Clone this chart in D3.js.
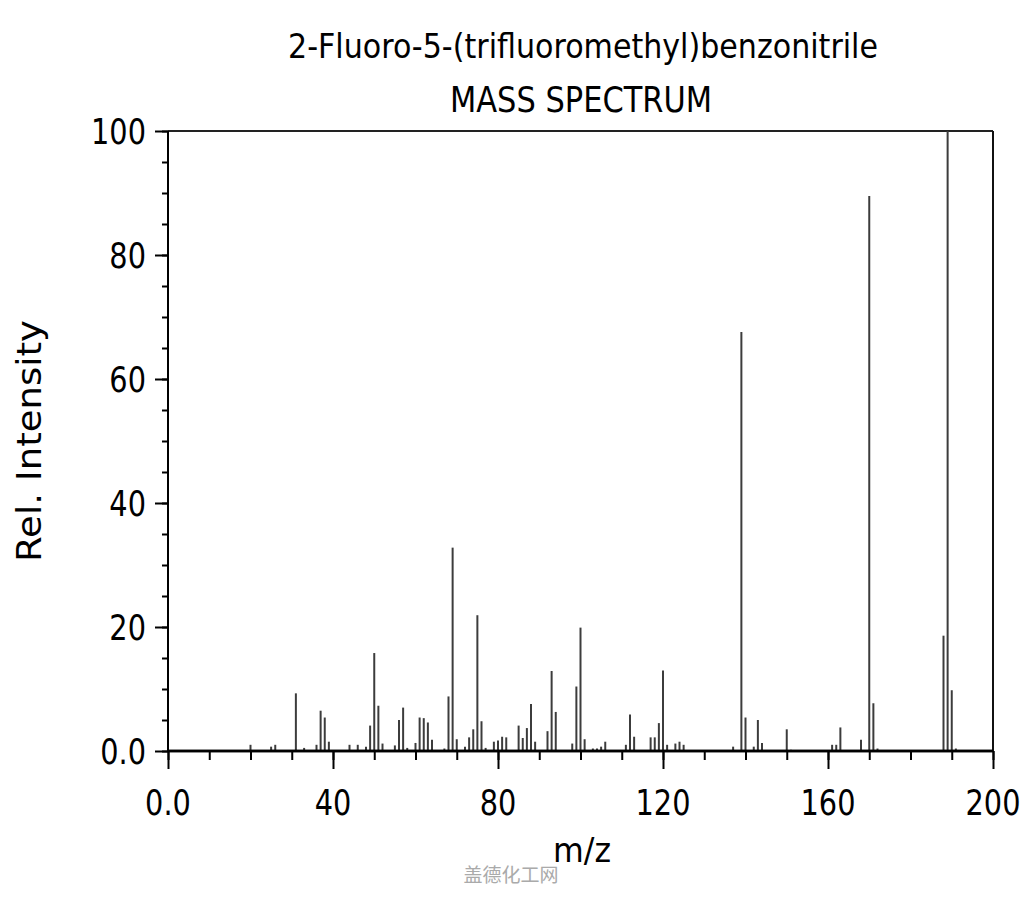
<!DOCTYPE html>
<html>
<head>
<meta charset="utf-8">
<script src="https://cdn.jsdelivr.net/npm/d3@7"></script>
<style>
  html, body { margin: 0; padding: 0; background: #fff; }
  svg { display: block; }
  text { font-family: "DejaVu Sans", sans-serif; fill: #000; }
</style>
</head>
<body>
<svg id="chart" width="1024" height="900"></svg>
<script>
const titleText = "2-Fluoro-5-(trifluoromethyl)benzonitrile";
const subtitleText = "MASS SPECTRUM";
const xLabelText = "m/z";
const yLabelText = "Rel. Intensity";
const watermarkText = "盖德化工网";

const mz = [20,25,26,31,33,36,37,38,39,44,46,48,49,50,51,52,55,56,57,58,60,61,62,63,64,
  67,68,69,70,72,73,74,75,76,77,79,80,81,82,85,86,87,88,89,92,93,94,98,99,100,101,
  103,104,105,106,111,112,113,117,118,119,120,121,123,124,125,137,139,140,142,143,144,
  150,151,161,162,163,168,170,171,172,188,189,190,191];
const intensity = [1.0,0.7,1.0,9.3,0.5,1.0,6.5,5.4,1.5,1.0,1.0,0.7,4.1,15.8,7.3,1.2,0.9,5.0,7.0,0.5,1.3,5.4,5.3,4.6,1.8,
  0.4,8.8,32.8,1.9,0.7,2.2,3.5,21.9,4.8,0.5,1.5,1.7,2.3,2.2,4.1,2.1,3.7,7.6,1.5,3.2,12.9,6.3,1.2,10.4,19.9,1.9,
  0.4,0.4,0.7,1.5,1.0,5.9,2.3,2.2,2.2,4.5,13.0,1.0,1.2,1.5,1.0,0.7,67.6,5.4,0.7,5.0,1.3,
  3.5,0.2,1.0,1.0,3.8,1.8,89.5,7.7,0.4,18.6,100,9.8,0.4];

const xMajorTicks = [0, 40, 80, 120, 160, 200];
const xMajorLabels = ["0.0", "40", "80", "120", "160", "200"];
const xMinorTicks = [0,10,20,30,40,50,60,70,80,90,100,110,120,130,140,150,160,170,180,190,200];
const yMajorTicks = [0, 20, 40, 60, 80, 100];
const yMajorLabels = ["0.0", "20", "40", "60", "80", "100"];
const yMinorTicks = [0,5,10,15,20,25,30,35,40,45,50,55,60,65,70,75,80,85,90,95,100];

const peaks = mz.map((m, i) => ({ mz: m, v: intensity[i] }));

const svg = d3.select("#chart");
const pLeft = 168, pRight = 993, pTop = 131, pBottom = 751;
const x = d3.scaleLinear().domain([0, 200]).range([pLeft, pRight]);
const y = d3.scaleLinear().domain([0, 100]).range([pBottom, pTop]);

// frame top and right
svg.append("line").attr("x1", pLeft).attr("x2", pRight).attr("y1", pTop).attr("y2", pTop)
  .attr("stroke", "#222").attr("stroke-width", 2);
svg.append("line").attr("x1", pRight).attr("x2", pRight).attr("y1", pTop).attr("y2", pBottom)
  .attr("stroke", "#111").attr("stroke-width", 2);

// bars
svg.append("g").selectAll("line").data(peaks).join("line")
  .attr("x1", d => x(d.mz)).attr("x2", d => x(d.mz))
  .attr("y1", y(0)).attr("y2", d => y(d.v))
  .attr("stroke", "#3c3c3c").attr("stroke-width", 2);

// x axis minor / major
const xMinor = svg.append("g").attr("transform", `translate(0,${pBottom})`)
  .call(d3.axisBottom(x).tickValues(xMinorTicks).tickSize(9).tickFormat(""));
const xMajor = svg.append("g").attr("transform", `translate(0,${pBottom})`)
  .call(d3.axisBottom(x).tickValues(xMajorTicks).tickSize(18).tickFormat(""));
[xMinor, xMajor].forEach(g => {
  g.selectAll(".tick line").attr("stroke", "#000").attr("stroke-width", 2);
  g.select(".domain").attr("stroke", "#000").attr("stroke-width", 2.5).attr("d", `M${pLeft},0H${pRight}`);
});

// y axis minor / major
const yMinor = svg.append("g").attr("transform", `translate(${pLeft},0)`)
  .call(d3.axisLeft(y).tickValues(yMinorTicks).tickSize(6).tickFormat(""));
const yMajor = svg.append("g").attr("transform", `translate(${pLeft},0)`)
  .call(d3.axisLeft(y).tickValues(yMajorTicks).tickSize(13).tickFormat(""));
[yMinor, yMajor].forEach(g => {
  g.selectAll(".tick line").attr("stroke", "#000").attr("stroke-width", 2);
  g.select(".domain").attr("stroke", "#000").attr("stroke-width", 2).attr("d", `M0,${pTop}V${pBottom}`);
});

// tick labels (condensed)
const sx = 0.8;
svg.append("g").selectAll("text").data(xMajorTicks).join("text")
  .attr("transform", d => `translate(${x(d)},815) scale(${sx},1)`)
  .attr("text-anchor", "middle")
  .attr("font-size", 36)
  .text((d, i) => xMajorLabels[i]);

svg.append("g").selectAll("text").data(yMajorTicks).join("text")
  .attr("transform", d => `translate(146,${y(d) + 13}) scale(${sx},1)`)
  .attr("text-anchor", "end")
  .attr("font-size", 36)
  .text((d, i) => yMajorLabels[i]);

// titles
svg.append("text").attr("x", 583).attr("y", 58).attr("text-anchor", "middle")
  .attr("font-size", 33).attr("textLength", 590).attr("lengthAdjust", "spacingAndGlyphs")
  .text(titleText);
svg.append("text").attr("x", 581).attr("y", 112).attr("text-anchor", "middle")
  .attr("font-size", 35).attr("textLength", 262).attr("lengthAdjust", "spacingAndGlyphs")
  .text(subtitleText);

// axis titles
svg.append("text").attr("x", 582).attr("y", 862).attr("text-anchor", "middle")
  .attr("font-size", 34).attr("textLength", 58).attr("lengthAdjust", "spacingAndGlyphs")
  .text(xLabelText);
svg.append("text").attr("transform", "translate(41,441) rotate(-90)").attr("text-anchor", "middle")
  .attr("font-size", 33).attr("textLength", 242).attr("lengthAdjust", "spacingAndGlyphs")
  .text(yLabelText);

// watermark
svg.append("text").attr("x", 511).attr("y", 882).attr("text-anchor", "middle")
  .attr("font-size", 19).style("font-family", "'Noto Sans CJK SC', sans-serif")
  .style("fill", "#aaaaaa")
  .text(watermarkText);
</script>
</body>
</html>
